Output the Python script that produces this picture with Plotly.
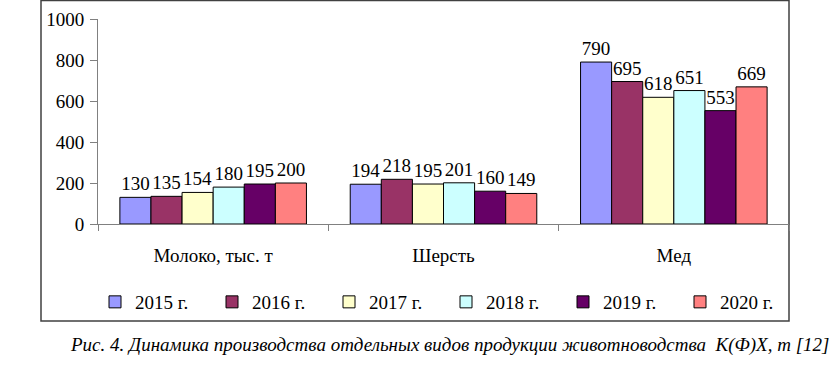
import plotly.graph_objects as go

categories = ["Молоко, тыс. т", "Шерсть", "Мед"]
years = ["2015 г.", "2016 г.", "2017 г.", "2018 г.", "2019 г.", "2020 г."]
values = {
    "2015 г.": [130, 194, 790],
    "2016 г.": [135, 218, 695],
    "2017 г.": [154, 195, 618],
    "2018 г.": [180, 201, 651],
    "2019 г.": [195, 160, 553],
    "2020 г.": [200, 149, 669],
}
colors = ["#9999FF", "#993366", "#FFFFCC", "#CCFFFF", "#660066", "#FF8080"]
y_ticks = [0, 200, 400, 600, 800, 1000]
caption = "Рис. 4. Динамика производства отдельных видов продукции животноводства  К(Ф)Х, т [12]"

FONT = "Liberation Serif"

fig = go.Figure()
for yr, col in zip(years, colors):
    fig.add_trace(go.Bar(
        name=yr, x=categories, y=values[yr],
        marker=dict(color=col, line=dict(color="black", width=1)),
        text=values[yr], textposition="outside", cliponaxis=False,
        textfont=dict(family=FONT, size=19, color="black"),
    ))

W, H = 832, 368
L, R, T, B = 98, 43, 19, 144
pw, ph = W - L - R, H - T - B

def px(x):
    return (x - L) / pw

def py(y):
    return (H - B - y) / ph

fig.update_layout(
    width=W, height=H,
    margin=dict(l=L, r=R, t=T, b=B, autoexpand=False),
    paper_bgcolor="white", plot_bgcolor="white",
    barmode="group", bargap=0.19, bargroupgap=0,
    font=dict(family=FONT, size=19, color="black"),
    showlegend=True,
    legend=dict(orientation="h", x=px(95), xanchor="left", y=py(302), yanchor="middle",
                font=dict(family=FONT, size=19, color="black"), entrywidth=72, entrywidthmode="pixels",
                itemwidth=30, traceorder="normal", bgcolor="rgba(0,0,0,0)"),
    xaxis=dict(type="category", showline=True, linecolor="#808080", linewidth=1,
               ticks="outside", tickson="boundaries", ticklen=6, tickcolor="#808080",
               ticklabelstandoff=14, tickfont=dict(family=FONT, size=19), showgrid=False,
               automargin=False),
    yaxis=dict(range=[0, 1000], tickvals=y_ticks, showline=True, linecolor="#808080", linewidth=1,
               ticks="outside", ticklen=7, tickcolor="#808080", showgrid=False, zeroline=False,
               ticklabelstandoff=2, tickfont=dict(family=FONT, size=19), automargin=False),
    shapes=[dict(type="rect", xref="paper", yref="paper", x0=px(41), x1=px(789), y0=py(321), y1=py(0.5),
                 line=dict(color="#404040", width=1.5), fillcolor="rgba(0,0,0,0)", layer="below")],
    annotations=[dict(text=caption, xref="paper", yref="paper", x=px(449), y=py(345),
                      xanchor="center", yanchor="middle", showarrow=False,
                      font=dict(family=FONT, size=19, color="black", style="italic"))],
)
fig.write_html("out.html", config={"displayModeBar": False},
               post_script="document.body.style.margin='0';document.body.style.padding='0';")
